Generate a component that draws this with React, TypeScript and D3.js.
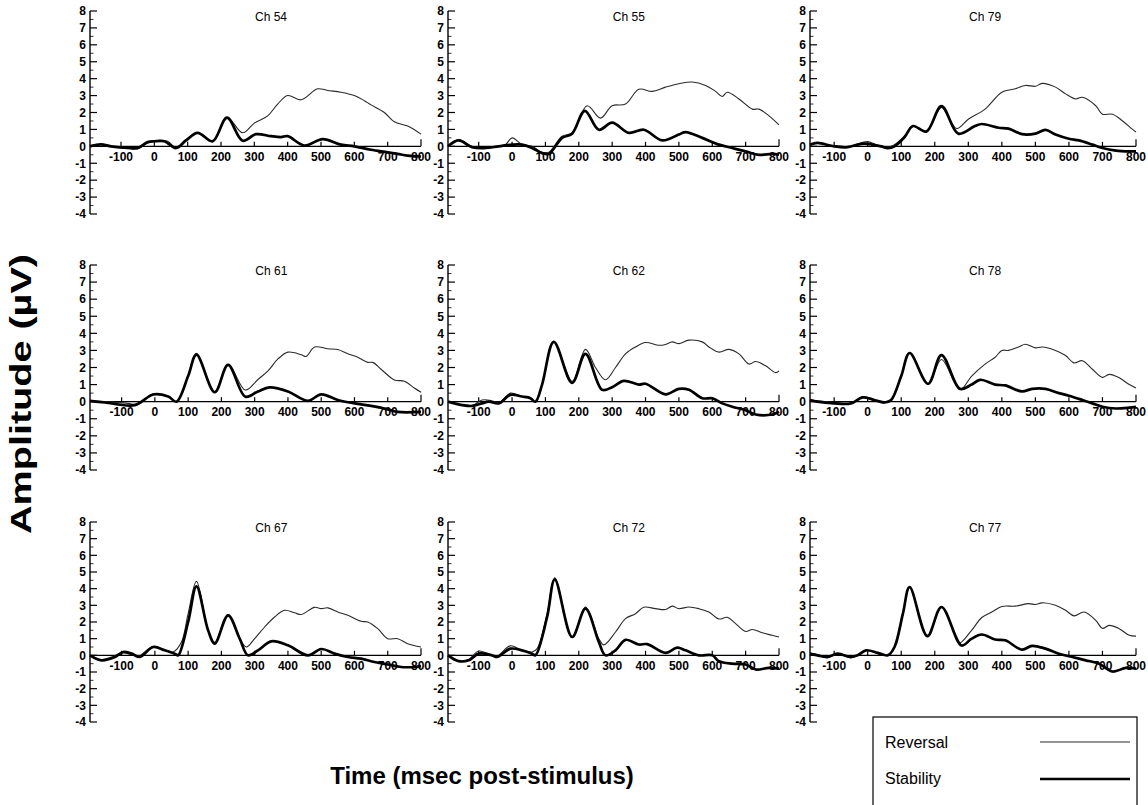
import React from 'react';
import * as d3 from 'd3';

type Pt = [number, number];

const channels = ['Ch 54', 'Ch 55', 'Ch 79', 'Ch 61', 'Ch 62', 'Ch 78', 'Ch 67', 'Ch 72', 'Ch 77'];
const xTicks = [-100, 0, 100, 200, 300, 400, 500, 600, 700, 800];
const yTicks = [-4, -3, -2, -1, 0, 1, 2, 3, 4, 5, 6, 7, 8];
const yMinor = [-3.5, -2.5, -1.5, -0.5, 0.5, 1.5, 2.5, 3.5, 4.5, 5.5, 6.5, 7.5];
const timeStart = [-193, -192, -172, -195, -192, -172, -195, -192, -172];

const ch54Rev: Pt[] = [[-193,0.05],[-160,0.12],[-130,0.0],[-90,-0.05],[-50,-0.15],[-20,0.2],[0,0.33],[40,0.3],[65,-0.1],[95,0.4],[130,0.8],[175,0.27],[218,1.7],[265,0.8],[300,1.37],[340,1.8],[370,2.5],[400,3.0],[440,2.75],[490,3.4],[520,3.3],[560,3.2],[600,3.0],[630,2.7],[650,2.45],[690,2.0],[720,1.45],[760,1.2],[800,0.72]];
const ch54Stab: Pt[] = [[-193,0.0],[-160,0.12],[-130,0.0],[-80,-0.1],[-50,-0.1],[-20,0.25],[0,0.3],[30,0.3],[65,-0.1],[95,0.35],[130,0.8],[175,0.3],[218,1.7],[265,0.33],[305,0.72],[350,0.6],[380,0.55],[400,0.6],[450,0.05],[505,0.43],[560,0.1],[600,0.0],[650,-0.2],[700,-0.35],[730,-0.45],[760,-0.55],[800,-0.6]];

const ch55Rev: Pt[] = [[-192,0.0],[-160,0.4],[-120,0.0],[-80,-0.1],[-50,0.0],[-20,0.1],[0,0.5],[30,0.1],[60,0.0],[90,-0.35],[110,-0.35],[150,0.6],[180,0.8],[225,2.4],[265,1.67],[300,2.4],[340,2.5],[380,3.37],[420,3.25],[460,3.5],[500,3.7],[540,3.8],[580,3.6],[610,3.25],[630,2.95],[645,3.2],[680,2.8],[720,2.2],[740,2.2],[770,1.8],[800,1.27]];
const ch55Stab: Pt[] = [[-192,0.0],[-160,0.35],[-120,-0.05],[-80,-0.1],[-40,0.0],[0,0.1],[30,0.1],[60,-0.1],[90,-0.4],[110,-0.45],[150,0.5],[180,0.75],[218,2.1],[260,0.98],[300,1.4],[350,0.8],[395,0.98],[450,0.35],[500,0.7],[520,0.84],[570,0.5],[620,0.1],[660,-0.1],[700,-0.3],[740,-0.5],[780,-0.45],[800,-0.5]];

const ch79Rev: Pt[] = [[-172,0.1],[-150,0.2],[-100,0.0],[-60,-0.05],[-20,0.2],[0,0.28],[40,0.0],[70,0.0],[110,0.6],[135,1.18],[175,0.85],[220,2.3],[265,1.05],[300,1.6],[350,2.2],[400,3.2],[440,3.4],[470,3.6],[500,3.55],[520,3.72],[560,3.5],[590,3.1],[620,2.8],[640,2.9],[680,2.4],[700,1.9],[730,1.9],[760,1.5],[790,1.0],[800,0.85]];
const ch79Stab: Pt[] = [[-172,0.1],[-150,0.2],[-100,0.0],[-60,-0.05],[-20,0.15],[0,0.15],[40,0.0],[60,-0.1],[80,0.0],[110,0.55],[135,1.2],[175,0.88],[220,2.38],[270,0.75],[320,1.2],[340,1.32],[390,1.1],[420,1.05],[460,0.72],[500,0.75],[530,0.97],[560,0.7],[600,0.45],[630,0.35],[670,0.1],[700,-0.1],[740,-0.25],[780,-0.3],[800,-0.3]];

const ch61Rev: Pt[] = [[-195,0.05],[-150,0.0],[-80,-0.1],[-55,-0.15],[-5,0.45],[40,0.3],[65,0.0],[100,1.5],[125,2.83],[180,0.58],[220,2.18],[272,0.68],[310,1.3],[340,1.8],[370,2.5],[400,2.9],[440,2.75],[455,2.65],[480,3.2],[520,3.1],[550,3.05],[580,2.8],[610,2.6],[640,2.3],[655,2.3],[680,1.9],[720,1.27],[750,1.2],[780,0.8],[800,0.55]];
const ch61Stab: Pt[] = [[-195,0.05],[-150,-0.05],[-60,-0.2],[-5,0.42],[40,0.3],[65,0.0],[100,1.5],[125,2.75],[180,0.55],[220,2.15],[272,0.29],[310,0.6],[345,0.84],[400,0.6],[460,0.05],[500,0.43],[550,0.1],[600,-0.1],[650,-0.25],[700,-0.45],[730,-0.6],[800,-0.6]];

const ch62Rev: Pt[] = [[-192,0.0],[-150,-0.2],[-120,-0.25],[-90,0.1],[-50,0.0],[-40,-0.1],[-5,0.5],[30,0.3],[50,0.3],[70,0.0],[90,1.0],[125,3.52],[180,1.19],[220,3.06],[250,2.0],[280,1.28],[310,2.0],[340,2.8],[370,3.2],[400,3.46],[440,3.3],[460,3.35],[480,3.5],[500,3.4],[530,3.6],[570,3.5],[590,3.2],[620,2.9],[650,3.06],[680,2.8],[710,2.2],[730,2.35],[760,2.1],[790,1.7],[800,1.8]];
const ch62Stab: Pt[] = [[-192,0.0],[-150,-0.2],[-120,-0.25],[-90,-0.1],[-70,0.0],[-40,-0.1],[-5,0.4],[30,0.3],[55,0.2],[70,0.0],[90,1.0],[125,3.5],[180,1.1],[220,2.8],[270,0.69],[300,0.85],[335,1.22],[380,1.0],[400,1.05],[460,0.43],[500,0.75],[530,0.7],[570,0.2],[600,0.2],[630,-0.1],[660,-0.3],[700,-0.5],[730,-0.75],[780,-0.75],[800,-0.6]];

const ch78Rev: Pt[] = [[-172,0.1],[-150,0.05],[-100,-0.05],[-50,-0.1],[-15,0.3],[20,0.1],[50,0.0],[70,0.1],[100,1.5],[125,2.87],[180,1.03],[220,2.47],[275,0.7],[310,1.5],[350,2.2],[380,2.6],[400,3.0],[420,3.0],[450,3.2],[470,3.36],[500,3.15],[520,3.2],[560,3.0],[590,2.7],[615,2.27],[640,2.4],[670,1.9],[700,1.42],[720,1.6],[750,1.4],[780,1.0],[800,0.8]];
const ch78Stab: Pt[] = [[-172,0.1],[-150,0.0],[-100,-0.1],[-50,-0.1],[-15,0.25],[20,0.1],[50,-0.05],[70,0.1],[100,1.5],[125,2.85],[180,1.05],[220,2.73],[275,0.75],[310,1.0],[335,1.28],[380,1.0],[410,0.95],[460,0.6],[490,0.75],[530,0.75],[570,0.5],[600,0.35],[640,0.1],[670,-0.1],[700,-0.3],[740,-0.4],[780,-0.35],[800,-0.3]];

const ch67Rev: Pt[] = [[-195,0.0],[-160,-0.26],[-130,-0.1],[-100,0.15],[-70,0.05],[-50,-0.05],[-5,0.54],[30,0.3],[55,0.2],[80,0.8],[100,2.5],[125,4.44],[160,1.5],[180,0.78],[220,2.44],[255,1.0],[275,0.5],[300,1.0],[330,1.7],[360,2.3],[390,2.7],[420,2.55],[440,2.45],[480,2.88],[500,2.8],[520,2.85],[550,2.6],[580,2.4],[620,2.04],[640,2.0],[670,1.6],[700,1.0],[730,1.0],[760,0.7],[800,0.5]];
const ch67Stab: Pt[] = [[-195,0.0],[-160,-0.3],[-120,-0.1],[-95,0.2],[-70,0.1],[-45,-0.1],[-5,0.5],[30,0.3],[60,0.1],[70,0.0],[100,2.0],[125,4.14],[160,1.5],[180,0.7],[220,2.4],[255,1.0],[280,0.0],[310,0.3],[350,0.84],[400,0.6],[460,0.0],[500,0.38],[540,0.1],[580,-0.1],[620,-0.2],[660,-0.4],[700,-0.55],[740,-0.7],[780,-0.7],[800,-0.65]];

const ch72Rev: Pt[] = [[-192,0.0],[-160,-0.34],[-130,-0.25],[-100,0.26],[-60,0.0],[-45,-0.05],[-5,0.57],[30,0.3],[60,0.2],[75,0.4],[105,2.5],[128,4.65],[180,1.07],[220,2.89],[260,1.0],[275,0.63],[310,1.4],[340,2.2],[370,2.5],[395,2.89],[430,2.8],[460,2.75],[480,2.95],[500,2.8],[530,2.9],[560,2.8],[590,2.6],[620,2.18],[645,2.28],[670,1.9],[700,1.43],[720,1.55],[750,1.35],[780,1.2],[800,1.1]];
const ch72Stab: Pt[] = [[-192,0.0],[-160,-0.35],[-130,-0.3],[-100,0.1],[-60,0.0],[-45,-0.1],[-5,0.4],[30,0.3],[60,0.1],[70,0.0],[105,2.3],[128,4.55],[180,1.1],[220,2.8],[260,0.8],[280,0.0],[310,0.3],[340,0.93],[380,0.65],[405,0.67],[460,0.15],[495,0.46],[520,0.3],[560,0.0],[600,0.0],[620,-0.35],[660,-0.5],[700,-0.55],[730,-0.85],[770,-0.75],[800,-0.8]];

const ch77Rev: Pt[] = [[-172,0.1],[-150,0.05],[-120,-0.15],[-90,0.1],[-50,-0.15],[-30,0.0],[-5,0.3],[30,0.1],[60,0.0],[80,0.5],[105,2.5],[125,4.09],[178,1.15],[220,2.9],[265,1.0],[275,0.75],[310,1.5],[340,2.27],[370,2.6],[400,2.93],[440,2.95],[480,3.1],[500,3.05],[520,3.15],[560,3.0],[590,2.7],[615,2.37],[645,2.6],[680,2.1],[700,1.62],[720,1.8],[750,1.6],[780,1.2],[800,1.15]];
const ch77Stab: Pt[] = [[-172,0.1],[-150,0.0],[-120,-0.1],[-90,0.1],[-50,-0.1],[-30,0.0],[-5,0.3],[30,0.15],[60,0.0],[80,0.5],[105,2.5],[125,4.1],[178,1.15],[220,2.9],[280,0.59],[310,1.0],[340,1.25],[380,0.95],[410,0.9],[460,0.34],[490,0.57],[530,0.4],[570,0.1],[610,-0.1],[650,-0.3],[690,-0.5],[730,-0.97],[770,-0.75],[800,-0.8]];

const reversalSeries = [ch54Rev, ch55Rev, ch79Rev, ch61Rev, ch62Rev, ch78Rev, ch67Rev, ch72Rev, ch77Rev];
const stabilitySeries = [ch54Stab, ch55Stab, ch79Stab, ch61Stab, ch62Stab, ch78Stab, ch67Stab, ch72Stab, ch77Stab];

// layout
const colLeft = [90, 448, 810];
const colRight = [421, 779, 1136];
const rowTop = [11, 265, 522];
const rowBottom = [214, 470, 722];
const FONT = 'Liberation Sans, Arial, Helvetica, sans-serif';

function Panel({ i }: { i: number }) {
  const col = i % 3;
  const row = Math.floor(i / 3);
  const x = d3.scaleLinear().domain([timeStart[i], 800]).range([colLeft[col], colRight[col]]);
  const y = d3.scaleLinear().domain([-4, 8]).range([rowBottom[row], rowTop[row]]);
  const line = d3
    .line<Pt>()
    .x((d) => x(d[0]))
    .y((d) => y(d[1]))
    .curve(d3.curveCatmullRom.alpha(0.5));
  const ax = x(timeStart[i]);
  const y0 = y(0);
  return (
    <g>
      {/* y axis */}
      <line x1={ax} x2={ax} y1={y(-4)} y2={y(8)} stroke="#000" strokeWidth={1.4} />
      {yTicks.map((t) => (
        <g key={'yt' + t}>
          <line x1={ax} x2={ax + 7} y1={y(t)} y2={y(t)} stroke="#000" strokeWidth={1.2} />
          <text
            x={ax - 4}
            y={y(t)}
            dy="0.36em"
            textAnchor="end"
            fontFamily={FONT}
            fontWeight="bold"
            fontSize={12}
          >
            {t}
          </text>
        </g>
      ))}
      {yMinor.map((t) => (
        <line key={'ym' + t} x1={ax} x2={ax + 3.5} y1={y(t)} y2={y(t)} stroke="#000" strokeWidth={0.8} />
      ))}
      {/* x axis */}
      <line x1={ax} x2={x(800)} y1={y0} y2={y0} stroke="#000" strokeWidth={1.4} />
      {xTicks.map((t) => (
        <g key={'xt' + t}>
          <line x1={x(t)} x2={x(t)} y1={y0} y2={y0 - (t === 800 ? 7 : 4.5)} stroke="#000" strokeWidth={1.2} />
          <text
            x={x(t)}
            y={y0 + 14.5}
            textAnchor="middle"
            fontFamily={FONT}
            fontWeight="bold"
            fontSize={12}
          >
            {t}
          </text>
        </g>
      ))}
      {/* title */}
      <text x={x(350)} y={rowTop[row] + 10} textAnchor="middle" fontFamily={FONT} fontSize={12}>
        {channels[i]}
      </text>
      {/* curves */}
      <path d={line(reversalSeries[i]) || ''} fill="none" stroke="#2a2a2a" strokeWidth={1.1} />
      <path d={line(stabilitySeries[i]) || ''} fill="none" stroke="#000" strokeWidth={2.7} strokeLinejoin="round" />
    </g>
  );
}

export default function App() {
  return (
    <svg
      width={1148}
      height={805}
      style={{ position: 'absolute', left: 0, top: 0, background: '#fff' }}
      xmlns="http://www.w3.org/2000/svg"
    >
      <rect x={0} y={0} width={1148} height={805} fill="#fff" />
      {channels.map((_, i) => (
        <Panel key={i} i={i} />
      ))}
      {/* axis titles */}
      <text
        transform="translate(31,394) rotate(-90)"
        textAnchor="middle"
        fontFamily={FONT}
        fontWeight="bold"
        fontSize={30}
        textLength={280}
        lengthAdjust="spacingAndGlyphs"
      >
        Amplitude (µV)
      </text>
      <text x={482} y={784} textAnchor="middle" fontFamily={FONT} fontWeight="bold" fontSize={24}>
        Time (msec post-stimulus)
      </text>
      {/* legend */}
      <rect x={873} y={717} width={264} height={100} fill="#fff" stroke="#000" strokeWidth={1.2} />
      <text x={885} y={748} fontFamily={FONT} fontSize={16}>
        Reversal
      </text>
      <line x1={1040} x2={1130} y1={742} y2={742} stroke="#2a2a2a" strokeWidth={1.1} />
      <text x={885} y={784} fontFamily={FONT} fontSize={16}>
        Stability
      </text>
      <line x1={1040} x2={1130} y1={779} y2={779} stroke="#000" strokeWidth={2.7} />
    </svg>
  );
}
